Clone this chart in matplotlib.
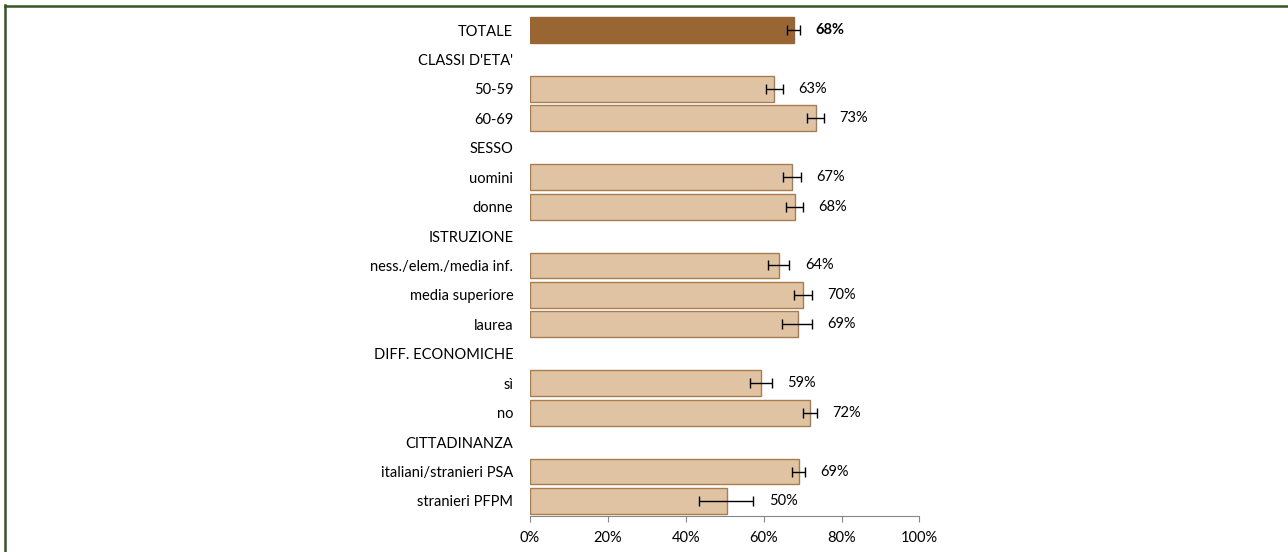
import numpy as np
import matplotlib
matplotlib.use("Agg")
import matplotlib.pyplot as plt
from matplotlib.lines import Line2D

plt.rcParams['font.family'] = ['Lato', 'DejaVu Sans']

# rows from top to bottom; None = group header without bar
labels = ['TOTALE', "CLASSI D'ETA'", '50-59', '60-69', 'SESSO', 'uomini', 'donne',
          'ISTRUZIONE', 'ness./elem./media inf.', 'media superiore', 'laurea',
          'DIFF. ECONOMICHE', 'sì', 'no', 'CITTADINANZA',
          'italiani/stranieri PSA', 'stranieri PFPM']
values = [67.9, None, 62.7, 73.4, None, 67.4, 68.0, None, 64.0, 70.1, 68.7,
          None, 59.3, 71.9, None, 69.0, 50.5]
ci_low = [66.0, None, 60.5, 71.1, None, 64.9, 65.7, None, 61.2, 67.8, 64.7,
          None, 56.5, 70.0, None, 67.4, 43.4]
ci_high = [69.3, None, 64.9, 75.5, None, 69.5, 70.1, None, 66.6, 72.3, 72.3,
           None, 62.1, 73.7, None, 70.6, 57.3]
pct_labels = ['68%', None, '63%', '73%', None, '67%', '68%', None, '64%', '70%', '69%',
              None, '59%', '72%', None, '69%', '50%']
xticks = [0, 20, 40, 60, 80, 100]

fig = plt.figure(figsize=(12.88, 5.52), dpi=100)
ax = fig.add_axes([0.4115, 0.0658, 0.3023, 0.9065])

n = len(labels)
ypos = np.arange(n)
for i in range(n):
    if values[i] is None:
        continue
    total = (i == 0)
    ax.barh(ypos[i], values[i], height=0.88,
            color='#996633' if total else '#e0c3a3',
            edgecolor='#996633' if total else '#a97c50', linewidth=1)
    ax.errorbar(values[i], ypos[i],
                xerr=[[values[i] - ci_low[i]], [ci_high[i] - values[i]]],
                fmt='none', ecolor='black', elinewidth=1, capsize=3.5, capthick=1)
    ax.text(ci_high[i] + 4.0, ypos[i], pct_labels[i], va='center', ha='left',
            fontsize=10.5, fontweight='bold' if total else 'normal', color='black')

ax.set_ylim(n - 0.5, -0.5)
ax.set_xlim(0, 100)
ax.set_yticks(ypos)
ax.set_yticklabels(labels, fontsize=10.5)
ax.tick_params(axis='y', length=0, pad=12)
ax.set_xticks(xticks)
ax.set_xticklabels([f'{t}%' for t in xticks], fontsize=10.5)
ax.tick_params(axis='x', length=4, color='#868686', pad=7)
for s in ['top', 'right', 'left']:
    ax.spines[s].set_visible(False)
ax.spines['bottom'].set_color('#868686')

# outer green frame (left and top edges)
fig.add_artist(Line2D([5 / 1288, 5 / 1288], [0, 1 - 5 / 552],
                      transform=fig.transFigure, color='#375623', linewidth=1.8))
fig.add_artist(Line2D([5 / 1288, 1], [1 - 5.5 / 552, 1 - 5.5 / 552],
                      transform=fig.transFigure, color='#375623', linewidth=1.8))

fig.savefig('out.png', dpi=100)
